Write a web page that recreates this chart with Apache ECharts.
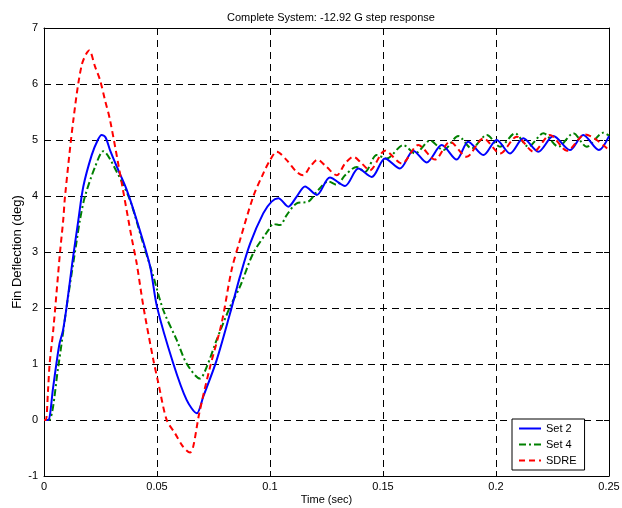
<!DOCTYPE html>
<html>
<head>
<meta charset="utf-8">
<script src="https://cdn.jsdelivr.net/npm/echarts@6/dist/echarts.min.js"></script>
<style>
  html, body { margin: 0; padding: 0; background: #fff; }
  #chart { width: 622px; height: 508px; }
</style>
</head>
<body>
<div id="chart"></div>
<script>
// Fin deflection step responses of three controller designs
const titleText = 'Complete System: -12.92 G step response';
const xTicks = [0, 0.05, 0.1, 0.15, 0.2, 0.25];
const yTicks = [-1, 0, 1, 2, 3, 4, 5, 6, 7];

const set2Time = [0, 0.0018, 0.004, 0.0055, 0.0069, 0.0084, 0.01, 0.0125, 0.0152, 0.0174, 0.0211, 0.0238, 0.0255, 0.0272, 0.0292, 0.033, 0.0366, 0.041, 0.0469, 0.05, 0.0572, 0.0631, 0.0676, 0.0705, 0.0764, 0.0823, 0.0867, 0.0912, 0.097, 0.1007, 0.1037, 0.1081, 0.1118, 0.1155, 0.1207, 0.1265, 0.1332, 0.1391, 0.145, 0.1509, 0.1575, 0.1634, 0.1693, 0.176, 0.1826, 0.1877, 0.1944, 0.2003, 0.2062, 0.2121, 0.2187, 0.2254, 0.2327, 0.2386, 0.2455, 0.25];
const set2Vals = [0, 0, 0.57, 1.01, 1.37, 1.6, 2.02, 2.8, 3.57, 4.17, 4.73, 5.0, 5.09, 5.05, 4.82, 4.45, 4.11, 3.57, 2.75, 2.02, 1.01, 0.36, 0.12, 0.42, 1.07, 1.9, 2.56, 3.15, 3.69, 3.9, 3.96, 3.81, 3.99, 4.17, 4.02, 4.33, 4.18, 4.49, 4.34, 4.67, 4.49, 4.81, 4.6, 4.91, 4.65, 4.97, 4.73, 5.0, 4.76, 5.03, 4.79, 5.07, 4.82, 5.09, 4.82, 5.07];

const set4Time = [0, 0.0022, 0.0063, 0.01, 0.0145, 0.0159, 0.0181, 0.0226, 0.0262, 0.0322, 0.038, 0.0432, 0.0484, 0.0528, 0.0587, 0.0631, 0.069, 0.072, 0.0764, 0.0823, 0.0867, 0.0926, 0.0993, 0.1015, 0.1044, 0.1074, 0.1118, 0.117, 0.1214, 0.1258, 0.1295, 0.1332, 0.1384, 0.142, 0.1472, 0.1516, 0.159, 0.1642, 0.1708, 0.1767, 0.1833, 0.1892, 0.1959, 0.2018, 0.2084, 0.2143, 0.221, 0.2276, 0.2342, 0.2401, 0.2475, 0.25];
const set4Vals = [0, 0, 0.95, 2.02, 3.21, 3.57, 3.99, 4.52, 4.8, 4.43, 3.93, 3.24, 2.56, 1.96, 1.43, 1.01, 0.74, 0.95, 1.43, 2.02, 2.38, 2.98, 3.39, 3.5, 3.48, 3.66, 3.87, 3.9, 4.11, 4.26, 4.2, 4.37, 4.52, 4.43, 4.73, 4.67, 4.91, 4.76, 4.99, 4.82, 5.07, 4.85, 5.09, 4.88, 5.12, 4.88, 5.12, 4.88, 5.12, 4.88, 5.13, 5.08];

const sdreTime = [0, 0.0008, 0.0018, 0.0025, 0.0041, 0.0071, 0.0085, 0.0093, 0.013, 0.0167, 0.02, 0.0226, 0.0248, 0.027, 0.0292, 0.0344, 0.0388, 0.041, 0.044, 0.0484, 0.0506, 0.0543, 0.058, 0.0616, 0.0646, 0.066, 0.0687, 0.0735, 0.0786, 0.083, 0.0867, 0.0926, 0.097, 0.1, 0.103, 0.1074, 0.1118, 0.1147, 0.1177, 0.121, 0.125, 0.1295, 0.1332, 0.1369, 0.1406, 0.1442, 0.1509, 0.1583, 0.1656, 0.173, 0.1796, 0.187, 0.1944, 0.2018, 0.2092, 0.2166, 0.2239, 0.2314, 0.2395, 0.25];
const sdreVals = [0, 0, 0.54, 1.01, 1.61, 3.0, 3.57, 3.99, 5.36, 6.34, 6.6, 6.31, 6.07, 5.71, 5.36, 4.23, 3.25, 2.8, 2.02, 1.07, 0.66, 0.0, -0.24, -0.48, -0.58, -0.48, 0.12, 0.95, 1.73, 2.68, 3.21, 3.99, 4.4, 4.64, 4.79, 4.64, 4.43, 4.37, 4.52, 4.65, 4.52, 4.37, 4.58, 4.7, 4.58, 4.46, 4.81, 4.58, 4.91, 4.65, 4.97, 4.7, 5.03, 4.76, 5.06, 4.79, 5.09, 4.81, 5.1, 4.82];

const zip = (ts, vs) => ts.map((t, i) => [t, vs[i]]);

const FONT = 'Liberation Sans, Arial, sans-serif';
const gridDash = { color: '#000', width: 1, type: [7, 5] };

const chart = echarts.init(document.getElementById('chart'), null, { renderer: 'canvas' });

const baseX = {
  type: 'value', min: xTicks[0], max: xTicks[xTicks.length - 1], interval: 0.05,
  axisLine: { show: true, onZero: false, lineStyle: { color: '#000', width: 1 } },
  axisTick: { show: true, inside: true, length: 5, lineStyle: { color: '#000' } }
};
const baseY = {
  type: 'value', min: yTicks[0], max: yTicks[yTicks.length - 1], interval: 1,
  axisLine: { show: true, onZero: false, lineStyle: { color: '#000', width: 1 } },
  axisTick: { show: true, inside: true, length: 5, lineStyle: { color: '#000' } }
};

chart.setOption({
  animation: false,
  backgroundColor: '#fff',
  title: {
    text: titleText, left: 326, top: 7, textAlign: 'center',
    textStyle: { fontFamily: FONT, fontSize: 11, fontWeight: 'normal', color: '#000' }
  },
  grid: { left: 44, right: 13, top: 28, bottom: 32, containLabel: false, outerBoundsMode: 'none' },
  xAxis: [
    Object.assign({}, baseX, {
      position: 'bottom',
      name: 'Time (sec)', nameLocation: 'middle', nameGap: 18, nameMoveOverlap: false,
      nameTextStyle: { fontFamily: FONT, fontSize: 11, color: '#000' },
      axisLabel: { fontFamily: FONT, fontSize: 11, color: '#000', margin: 5,
        formatter: v => String(+v.toFixed(2)) },
      splitLine: { show: true, lineStyle: gridDash }
    }),
    Object.assign({}, baseX, {
      position: 'top', axisLabel: { show: false }, splitLine: { show: false }
    })
  ],
  yAxis: [
    Object.assign({}, baseY, {
      position: 'left',
      name: 'Fin Deflection (deg)', nameLocation: 'middle', nameGap: 20, nameMoveOverlap: false,
      nameTextStyle: { fontFamily: FONT, fontSize: 13, color: '#000' },
      axisLabel: { fontFamily: FONT, fontSize: 11, color: '#000', margin: 6 },
      splitLine: { show: true, lineStyle: gridDash }
    }),
    Object.assign({}, baseY, {
      position: 'right', axisLabel: { show: false }, splitLine: { show: false }
    })
  ],
  legend: {
    orient: 'vertical', left: 512, top: 419,
    backgroundColor: '#fff', borderColor: '#000', borderWidth: 1, borderRadius: 0,
    padding: [4, 8, 4, 6], itemWidth: 22, itemHeight: 10, itemGap: 5,
    itemStyle: { opacity: 0 },
    textStyle: { fontFamily: FONT, fontSize: 11, color: '#000' },
    data: ['Set 2', 'Set 4', 'SDRE']
  },
  series: [
    {
      name: 'Set 2', type: 'line', showSymbol: false, symbol: 'none', smooth: 0.3,
      data: zip(set2Time, set2Vals),
      lineStyle: { color: '#0000ff', width: 2, type: 'solid' }, itemStyle: { color: '#0000ff' }, z: 4
    },
    {
      name: 'Set 4', type: 'line', showSymbol: false, symbol: 'none', smooth: 0.3,
      data: zip(set4Time, set4Vals),
      lineStyle: { color: '#008000', width: 2, type: [7, 3, 2, 3] }, itemStyle: { color: '#008000' }, z: 3
    },
    {
      name: 'SDRE', type: 'line', showSymbol: false, symbol: 'none', smooth: 0.3,
      data: zip(sdreTime, sdreVals),
      lineStyle: { color: '#ff0000', width: 2, type: [6, 4] }, itemStyle: { color: '#ff0000' }, z: 5
    }
  ]
});
</script>
</body>
</html>
